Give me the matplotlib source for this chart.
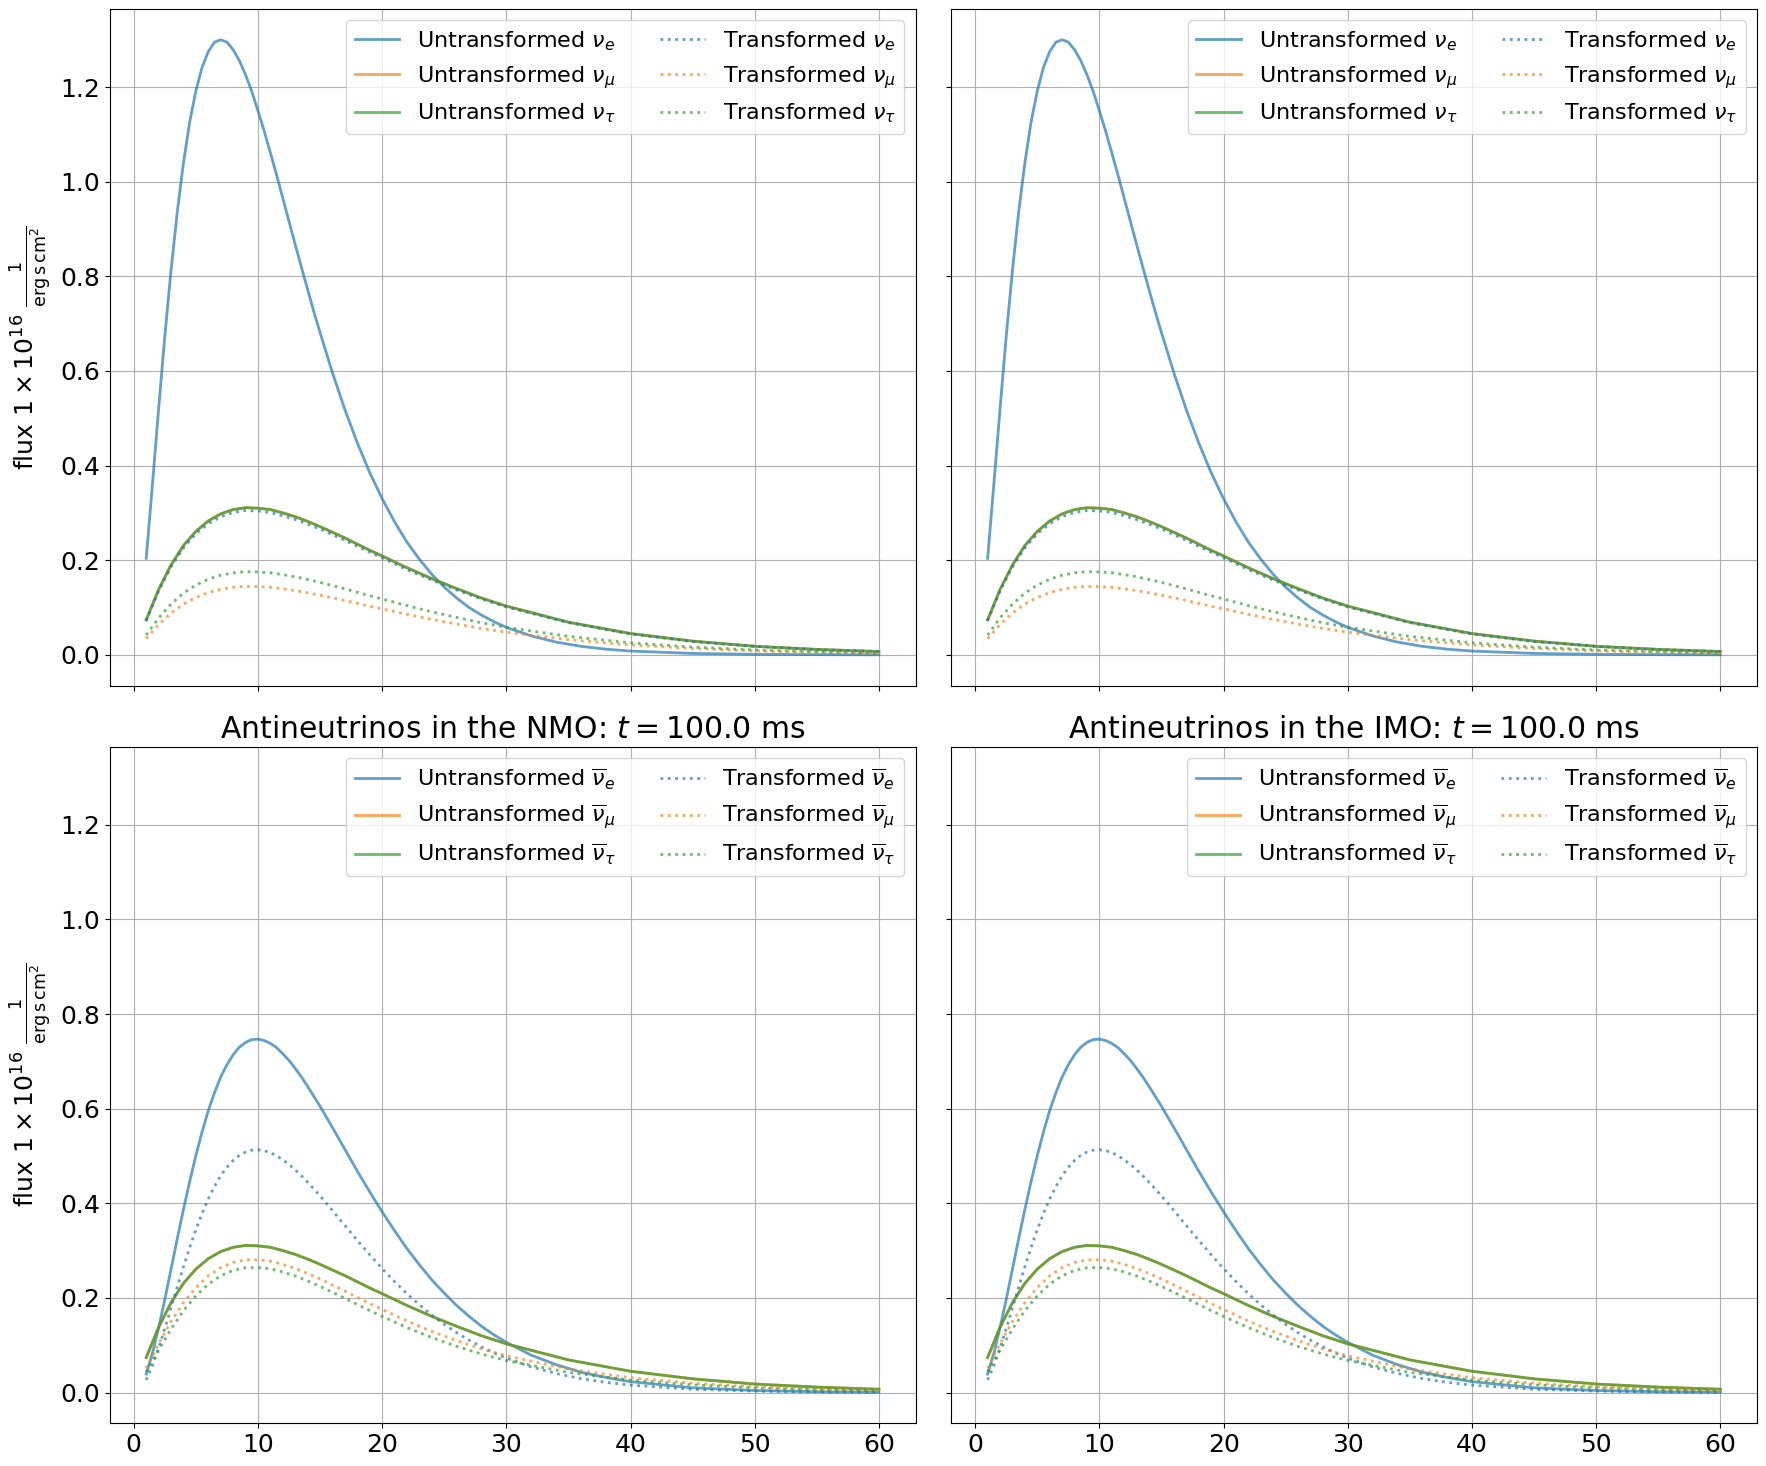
import numpy as np
import matplotlib.pyplot as plt

# energy grids (MeV) the curves are sampled at
energy = [1, 2, 3, 4, 5, 6, 7, 8, 9, 10, 11, 12, 13, 14, 15, 16, 17, 18, 19, 20,
          22, 24, 26, 28, 30, 35, 40, 45, 50, 55, 60]
energy_fine = [1, 1.5, 2, 2.5, 3, 3.5, 4, 4.5, 5, 5.5, 6, 6.5, 7, 7.5, 8, 8.5, 9, 9.5,
               10, 10.5, 11, 11.5, 12, 12.5, 13, 13.5, 14, 14.5, 15, 16, 17, 18, 19, 20,
               21, 22, 23, 24, 25, 26, 27, 28, 29, 30, 32, 34, 36, 38, 40, 45, 50, 55, 60]

# neutrinos (same in NMO and IMO panels)
unt_nue = [0.204, 0.360, 0.520, 0.674, 0.813, 0.936, 1.040, 1.126, 1.192, 1.242, 1.275,
           1.295, 1.300, 1.295, 1.279, 1.256, 1.226, 1.191, 1.150, 1.107, 1.061, 1.014,
           0.965, 0.916, 0.867, 0.819, 0.772, 0.725, 0.681, 0.596, 0.518, 0.448, 0.385,
           0.330, 0.281, 0.238, 0.202, 0.170, 0.143, 0.120, 0.100, 0.084, 0.070, 0.058,
           0.040, 0.027, 0.018, 0.012, 0.008, 0.003, 0.0011, 0.0004, 0.0001]
unt_nux = [0.074, 0.138, 0.190, 0.231, 0.261, 0.283, 0.298, 0.307, 0.311, 0.310,
           0.307, 0.300, 0.292, 0.282, 0.271, 0.259, 0.247, 0.234, 0.221, 0.209,
           0.184, 0.161, 0.140, 0.120, 0.103, 0.069, 0.045, 0.029, 0.018, 0.0115, 0.007]
tr_nue = [0.072, 0.135, 0.186, 0.226, 0.256, 0.277, 0.292, 0.301, 0.305, 0.304,
          0.301, 0.294, 0.286, 0.276, 0.266, 0.254, 0.242, 0.229, 0.217, 0.205,
          0.180, 0.158, 0.137, 0.118, 0.101, 0.068, 0.044, 0.028, 0.018, 0.011, 0.007]
tr_numu = [0.0344, 0.0642, 0.0884, 0.1074, 0.1214, 0.1316, 0.1386, 0.1428, 0.1446, 0.1442,
           0.1428, 0.1395, 0.1358, 0.1311, 0.1260, 0.1204, 0.1149, 0.1088, 0.1028, 0.0972,
           0.0856, 0.0749, 0.0651, 0.0558, 0.0479, 0.0321, 0.0209, 0.0135, 0.0084, 0.0053, 0.0033]
tr_nutau = [0.0418, 0.0780, 0.1074, 0.1305, 0.1475, 0.1599, 0.1684, 0.1735, 0.1757, 0.1752,
            0.1735, 0.1695, 0.1650, 0.1593, 0.1531, 0.1463, 0.1396, 0.1322, 0.1249, 0.1181,
            0.1040, 0.0910, 0.0791, 0.0678, 0.0582, 0.0390, 0.0254, 0.0164, 0.0102, 0.0065, 0.0040]

# antineutrinos
unt_nuebar = [0.039, 0.083, 0.137, 0.197, 0.261, 0.325, 0.387, 0.446, 0.501, 0.551, 0.596,
              0.634, 0.667, 0.693, 0.714, 0.730, 0.740, 0.746, 0.747, 0.744, 0.738, 0.729,
              0.716, 0.702, 0.685, 0.667, 0.647, 0.626, 0.605, 0.560, 0.514, 0.468, 0.424,
              0.382, 0.342, 0.304, 0.270, 0.238, 0.210, 0.184, 0.161, 0.140, 0.122, 0.106,
              0.079, 0.059, 0.043, 0.032, 0.023, 0.010, 0.0043, 0.0018, 0.0008]
unt_nuxbar = unt_nux
tr_nuebar = [0.0267, 0.0567, 0.0938, 0.1353, 0.1790, 0.2229, 0.2659, 0.3066, 0.3442, 0.3787,
             0.4095, 0.4356, 0.4582, 0.4763, 0.4905, 0.5013, 0.5084, 0.5123, 0.5132, 0.5113,
             0.5070, 0.5005, 0.4919, 0.4821, 0.4706, 0.4582, 0.4445, 0.4303, 0.4156, 0.3847,
             0.3531, 0.3215, 0.2913, 0.2621, 0.2346, 0.2088, 0.1854, 0.1635, 0.1441, 0.1264,
             0.1106, 0.0965, 0.0838, 0.0728, 0.0543, 0.0403, 0.0296, 0.0216, 0.0157, 0.0069,
             0.0030, 0.0012, 0.0005]
tr_numubar = [0.0517, 0.1033, 0.1503, 0.1904, 0.2221, 0.2467, 0.2641, 0.2750, 0.2804, 0.2806,
              0.2777, 0.2708, 0.2623, 0.2517, 0.2400, 0.2274, 0.2146, 0.2013, 0.1880, 0.1758,
              0.1512, 0.1292, 0.1098, 0.0922, 0.0775, 0.0497, 0.0313, 0.0197, 0.0120, 0.0076, 0.0046]
tr_nutaubar = [0.0435, 0.0901, 0.1342, 0.1731, 0.2045, 0.2292, 0.2469, 0.2582, 0.2638, 0.2643,
               0.2616, 0.2549, 0.2464, 0.2359, 0.2243, 0.2119, 0.1992, 0.1860, 0.1732, 0.1610,
               0.1373, 0.1162, 0.0977, 0.0814, 0.0677, 0.0425, 0.0263, 0.0163, 0.0098, 0.0062, 0.0037]

flavors = ['e', r'\mu', r'\tau']
colors = ['tab:blue', 'tab:orange', 'tab:green']
ylabel = r'flux $1 \times 10^{16}$ $\frac{1}{\mathrm{erg\,s\,cm^{2}}}$'

# (x, y) per flavour, untransformed then transformed
nu_unt = [(energy_fine, unt_nue), (energy, unt_nux), (energy, unt_nux)]
nu_tr = [(energy, tr_nue), (energy, tr_numu), (energy, tr_nutau)]
nubar_unt = [(energy_fine, unt_nuebar), (energy, unt_nuxbar), (energy, unt_nuxbar)]
nubar_tr = [(energy_fine, tr_nuebar), (energy, tr_numubar), (energy, tr_nutaubar)]

fig, axes = plt.subplots(2, 2, figsize=(17.66, 14.66), dpi=100, sharex=True, sharey=True)

rows = [(nu_unt, nu_tr, r'\nu_{%s}', None),
        (nubar_unt, nubar_tr, r'\overline{\nu}_{%s}', 'Antineutrinos')]
for r, (unt, tr, sym, name) in enumerate(rows):
    for c, order in enumerate(['NMO', 'IMO']):
        ax = axes[r, c]
        for f, col, (x, y) in zip(flavors, colors, unt):
            ax.plot(x, y, color=col, lw=2, alpha=0.7,
                    label='Untransformed $' + sym % f + '$')
        for f, col, (x, y) in zip(flavors, colors, tr):
            ax.plot(x, y, color=col, lw=2, alpha=0.7, linestyle=':',
                    label='Transformed $' + sym % f + '$')
        ax.grid(True)
        ax.tick_params(labelsize=18)
        ax.legend(loc='upper right', ncol=2, fontsize=16)
        if name:
            ax.set_title(f'{name} in the {order}: $t = 100.0$ ms', fontsize=21.5)
        if c == 0:
            ax.set_ylabel(ylabel, fontsize=18)

fig.tight_layout(pad=0.65, h_pad=1.8, w_pad=2.2)
fig.savefig('out.png')
